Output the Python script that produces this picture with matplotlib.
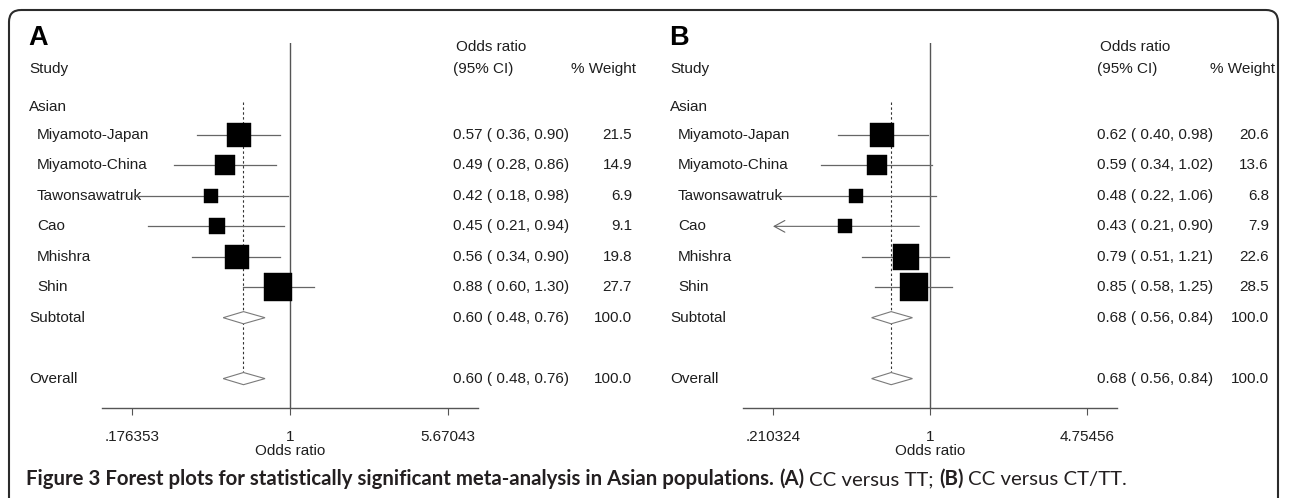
import numpy as np
import matplotlib
matplotlib.use('Agg')
import matplotlib.pyplot as plt
from matplotlib import transforms
from matplotlib.patches import FancyBboxPatch

plt.rcParams['font.family'] = ['Liberation Sans', 'DejaVu Sans']

# data
studies = ["Miyamoto-Japan", "Miyamoto-China", "Tawonsawatruk", "Cao", "Mhishra", "Shin"]

a_or = [0.57, 0.49, 0.42, 0.45, 0.56, 0.88]
a_lo = [0.36, 0.28, 0.18, 0.21, 0.34, 0.60]
a_hi = [0.90, 0.86, 0.98, 0.94, 0.90, 1.30]
a_wt = [21.5, 14.9, 6.9, 9.1, 19.8, 27.7]
a_pool = [0.60, 0.48, 0.76]
a_ticks = [0.176353, 1, 5.67043]
a_ticklabels = [".176353", "1", "5.67043"]

b_or = [0.62, 0.59, 0.48, 0.43, 0.79, 0.85]
b_lo = [0.40, 0.34, 0.22, 0.21, 0.51, 0.58]
b_hi = [0.98, 1.02, 1.06, 0.90, 1.21, 1.25]
b_wt = [20.6, 13.6, 6.8, 7.9, 22.6, 28.5]
b_pool = [0.68, 0.56, 0.84]
b_ticks = [0.210324, 1, 4.75456]
b_ticklabels = [".210324", "1", "4.75456"]

W, H = 1290, 498
TXT = '#1e1e1e'
FS = 11

fig = plt.figure(figsize=(W / 100, H / 100), dpi=100)
bg = fig.add_axes([0, 0, 1, 1])
bg.set_xlim(0, W)
bg.set_ylim(H, 0)
bg.axis('off')

# rounded frame round the figure
frame = FancyBboxPatch((9, 10), W - 21, 540, boxstyle="round,pad=0,rounding_size=12",
                       fc='none', ec='#2b2b2b', lw=1.5, clip_on=False)
bg.add_patch(frame)

# row layout (pixels)
ROW0, ROWH = 135, 30.45
TOP, BOT = 43, 408


def r_of(px):
    return (px - ROW0) / ROWH


def panel(letter, tick_px, ticks, ticklabels, est, lo, hi, wt, pool, cols):
    lo_px, hi_px = tick_px
    pad = 30
    ax = fig.add_axes([(lo_px - pad) / W, (H - BOT) / H,
                       (hi_px - lo_px + 2 * pad) / W, (BOT - TOP) / H])
    ax.patch.set_visible(False)
    ax.set_xscale('log')
    lt, ht = np.log(ticks[0]), np.log(ticks[-1])
    ext = (ht - lt) * pad / (hi_px - lo_px)
    ax.set_xlim(np.exp(lt - ext), np.exp(ht + ext))
    ax.set_ylim(r_of(BOT), r_of(TOP))
    for s in ['left', 'right', 'top']:
        ax.spines[s].set_visible(False)
    ax.spines['bottom'].set_color('#555555')
    ax.spines['bottom'].set_linewidth(1.0)
    ax.set_yticks([])
    ax.set_xticks(ticks)
    ax.set_xticklabels(ticklabels)
    ax.minorticks_off()
    ax.tick_params(axis='x', direction='out', length=5, width=0.8, color='#555555',
                   pad=11, labelsize=FS, labelcolor=TXT)
    ax.set_xlabel("Odds ratio", fontsize=FS, color=TXT, labelpad=0)

    ax.axvline(1, color='#555555', lw=1.0, zorder=1)

    rows = np.arange(len(est))
    sub_row, all_row = len(est), len(est) + 2
    xmin = ticks[0]
    for r, e, l, h, w in zip(rows, est, lo, hi, wt):
        if l < xmin:
            ax.annotate('', xy=(xmin, r), xytext=(h, r),
                        arrowprops=dict(arrowstyle='->,head_length=0.55,head_width=0.3',
                                        color='#666666', lw=0.8, shrinkA=0, shrinkB=0,
                                        mutation_scale=14), zorder=3)
        else:
            ax.plot([l, h], [r, r], color='#666666', lw=0.9, zorder=3)
        side = 5.3 * np.sqrt(w) * 0.72
        ax.plot([e], [r], marker='s', ms=side, color='black', mec='black', mew=0.3,
                ls='none', zorder=4)

    p_est, p_lo, p_hi = pool
    ax.plot([p_est, p_est], [r_of(102), all_row + 0.2], color='#333333', lw=0.8,
            ls=(0, (2.2, 2.2)), zorder=2)
    dh = 0.2
    for r in [sub_row, all_row]:
        ax.fill([p_lo, p_est, p_hi, p_est], [r, r - dh, r, r + dh],
                fc='white', ec='#7a7a7a', lw=0.8, zorder=5)

    # text columns: x in pixels, y in rows
    tr = transforms.blended_transform_factory(bg.transData, ax.transData)
    kw = dict(transform=tr, fontsize=FS, color=TXT, va='center', clip_on=False)
    x_lab, x_name, x_or, x_wt, x_wt_hdr = cols
    ax.text(x_lab - 1, r_of(38), letter, transform=tr, fontsize=19.5, fontweight='bold',
            color='black', va='center', clip_on=False)
    ax.text(x_lab, r_of(69), "Study", **kw)
    ax.text(x_or + 3, r_of(47), "Odds ratio", **kw)
    ax.text(x_or, r_of(69), "(95% CI)", **kw)
    ax.text(x_wt_hdr, r_of(69), "% Weight", ha='right', **kw)
    ax.text(x_lab, r_of(107), "Asian", **kw)
    for r, name, e, l, h, w in zip(rows, studies, est, lo, hi, wt):
        ax.text(x_name, r, name, zorder=1, **kw)
        ax.text(x_or, r, "%.2f ( %.2f, %.2f)" % (e, l, h), **kw)
        ax.text(x_wt, r, "%.1f" % w, ha='right', **kw)
    for r, lab in [(sub_row, "Subtotal"), (all_row, "Overall")]:
        ax.text(x_lab, r, lab, **kw)
        ax.text(x_or, r, "%.2f ( %.2f, %.2f)" % tuple(pool), **kw)
        ax.text(x_wt, r, "%.1f" % 100.0, ha='right', **kw)
    return ax


panel("A", (132, 448), a_ticks, a_ticklabels, a_or, a_lo, a_hi, a_wt, a_pool,
      (29, 37, 453, 632, 636))
panel("B", (773, 1087), b_ticks, b_ticklabels, b_or, b_lo, b_hi, b_wt, b_pool,
      (670, 678, 1097, 1269, 1275))

# caption, fitted to the width it takes in the reference
cap_parts = [("Figure 3 Forest plots for statistically significant meta-analysis in Asian populations.", 'bold'),
             ("(A)", 'bold'), ("CC versus TT;", 'normal'), ("(B)", 'bold'), ("CC versus CT/TT.", 'normal')]
renderer = fig.canvas.get_renderer()


def draw_caption(size, x0=26, y0=485):
    items = []
    x = x0
    for i, (s, wgt) in enumerate(cap_parts):
        if i > 0:
            t1 = bg.text(0, 0, "x x", fontsize=size, fontweight=wgt, family='Lato')
            t2 = bg.text(0, 0, "xx", fontsize=size, fontweight=wgt, family='Lato')
            x += t1.get_window_extent(renderer).width - t2.get_window_extent(renderer).width
            t1.remove()
            t2.remove()
        t = bg.text(x, y0, s, fontsize=size, fontweight=wgt, family='Lato',
                    color='#231f20', va='baseline', ha='left')
        x += t.get_window_extent(renderer).width
        items.append(t)
    return items, x - x0


items, width = draw_caption(12)
for t in items:
    t.remove()
draw_caption(12 * 1096 / width)

fig.savefig("out.png", dpi=100)
